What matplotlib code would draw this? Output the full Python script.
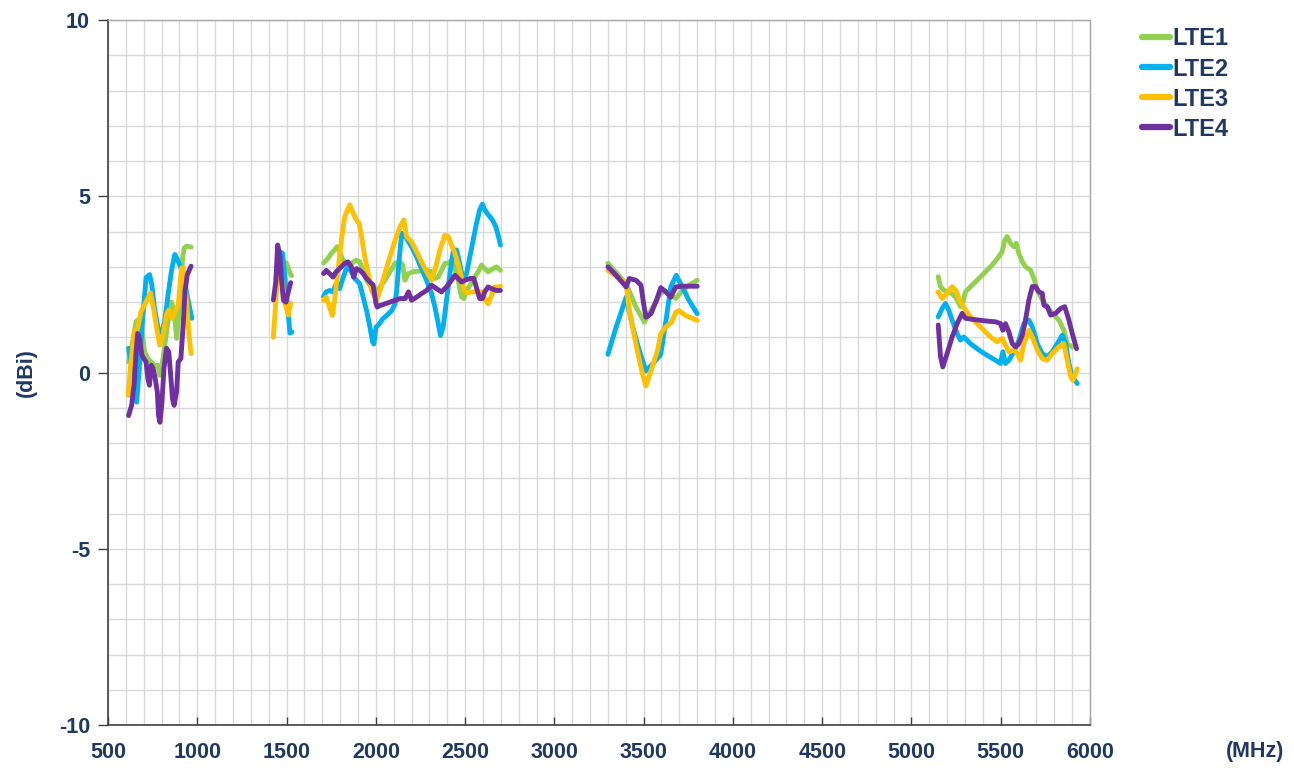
import numpy as np
import matplotlib.pyplot as plt
from matplotlib.ticker import MultipleLocator

nan = np.nan

# 频率 (MHz) / 增益 (dBi)，各频段之间用 nan 断开
lte1_f = [615, 638, 657, 670, 685, 694, 704, 723, 742, 760, 780, 789, 808, 836, 855, 870, 884, 897, 908, 918, 927, 940, 965, nan,
          1440, 1453, 1470, 1500, 1519, 1528, nan,
          1707, 1732, 1750, 1769, 1782, 1797, 1816, 1835, 1854, 1873, 1891, 1910, 1929, 1948, 1967, 1995, 2023, 2051, 2079, 2108, 2136,
          2150, 2163, 2181, 2209, 2247, 2284, 2312, 2331, 2350, 2368, 2387, 2405, 2424, 2440, 2461, 2480, 2493, 2508, 2530,
          2573, 2592, 2610, 2629, 2657, 2676, 2698, nan,
          3300, 3402, 3457, 3504, 3541, 3587, 3615, 3643, 3680, 3717, 3754, 3800, nan,
          5150, 5163, 5181, 5209, 5237, 5256, 5275, 5288, 5303, 5340, 5378, 5415, 5452, 5490, 5508, 5523, 5536, 5555, 5574,
          5587, 5602, 5621, 5639, 5667, 5686, 5705, 5733, 5761, 5789, 5826, 5854, 5873, 5901]
lte1_g = [0.3, 0.88, 1.45, 1.5, 1.26, 1.07, 0.59, 0.4, 0.3, 0.21, 0.2, -0.08, 0.4, 1.45, 2.0, 1.73, 0.97, 1.64, 2.5, 3.26, 3.54, 3.59, 3.56, nan,
          2.62, 3.38, 3.2, 3.1, 2.82, 2.75, nan,
          3.11, 3.24, 3.38, 3.48, 3.57, 3.43, 3.19, 3.1, 3.05, 3.14, 3.19, 3.14, 2.9, 2.62, 2.48, 2.29, 2.43, 2.62, 2.86, 3.1, 3.14,
          3.05, 2.62, 2.81, 2.86, 2.88, 2.9, 2.86, 2.67, 2.71, 2.9, 3.1, 3.1, 3.19, 3.0, 2.62, 2.14, 2.1, 2.33, 2.5,
          2.86, 3.05, 2.95, 2.86, 2.95, 3.0, 2.9, nan,
          3.1, 2.52, 1.86, 1.43, 1.76, 2.19, 2.33, 2.24, 2.1, 2.33, 2.48, 2.62, nan,
          2.72, 2.44, 2.34, 2.29, 2.2, 2.06, 1.87, 2.01, 2.29, 2.48, 2.67, 2.86, 3.05, 3.29, 3.43, 3.76, 3.86, 3.67, 3.57,
          3.67, 3.38, 3.15, 3.0, 2.91, 2.67, 2.34, 2.06, 1.87, 1.68, 1.49, 1.2, 0.82, 0.73]

lte2_f = [615, 628, 647, 660, 675, 694, 713, 732, 745, 760, 780, 798, 817, 836, 855, 874, 889, 908, 931, 950, 969, nan,
          1435, 1463, 1478, 1500, 1519, 1530, nan,
          1707, 1722, 1741, 1760, 1778, 1797, 1812, 1831, 1844, 1863, 1882, 1910, 1929, 1948, 1967, 1982, 1989, 2001, 2019, 2038,
          2060, 2089, 2108, 2117, 2132, 2145, 2164, 2172, 2200, 2228, 2256, 2284, 2312, 2331, 2350, 2362, 2377, 2396, 2415,
          2433, 2452, 2470, 2489, 2508, 2527, 2545, 2564, 2582, 2597, 2610, 2629, 2653, 2672, 2685, 2698, nan,
          3300, 3346, 3402, 3439, 3476, 3513, 3550, 3596, 3628, 3652, 3683, 3717, 3754, 3800, nan,
          5150, 5172, 5191, 5209, 5228, 5256, 5275, 5293, 5331, 5378, 5424, 5471, 5499, 5512, 5527, 5546, 5574, 5602, 5630,
          5658, 5677, 5705, 5733, 5761, 5789, 5817, 5845, 5864, 5882, 5901, 5929]
lte2_g = [0.69, 0.3, -0.17, -0.84, 0.11, 1.54, 2.69, 2.78, 2.5, 1.83, 1.26, 1.07, 1.45, 2.2, 2.88, 3.35, 3.2, 2.97, 2.5, 2.02, 1.54, nan,
          2.25, 3.43, 3.38, 2.15, 1.12, 1.15, nan,
          2.16, 2.29, 2.33, 2.29, 2.52, 2.38, 2.62, 2.9, 3.0, 2.86, 2.67, 2.52, 2.14, 1.76, 1.29, 0.86, 0.81, 1.29, 1.38, 1.52,
          1.62, 1.76, 1.95, 2.33, 3.29, 3.95, 3.86, 3.81, 3.57, 3.29, 2.95, 2.62, 2.24, 1.86, 1.38, 1.05, 1.29, 2.05, 2.81,
          3.43, 3.48, 3.1, 2.62, 2.81, 3.29, 3.76, 4.24, 4.62, 4.78, 4.62, 4.48, 4.33, 4.14, 3.9, 3.62, nan,
          0.52, 1.29, 2.14, 1.29, 0.62, 0.05, 0.24, 0.52, 1.57, 2.43, 2.76, 2.43, 2.05, 1.67, nan,
          1.58, 1.82, 1.96, 1.77, 1.49, 1.11, 0.92, 1.01, 0.82, 0.64, 0.49, 0.35, 0.26, 0.59, 0.26, 0.35, 0.59, 0.92, 1.39,
          1.49, 1.3, 0.82, 0.54, 0.45, 0.59, 0.82, 1.06, 0.82, 0.26, -0.12, -0.31]

lte3_f = [613, 628, 647, 666, 685, 700, 723, 738, 751, 770, 789, 808, 827, 840, 859, 874, 893, 912, 921, 940, 953, 965, nan,
          1426, 1445, 1457, 1491, 1510, 1523, nan,
          1707, 1722, 1741, 1756, 1769, 1788, 1807, 1826, 1854, 1873, 1891, 1906, 1920, 1938, 1957, 1976, 2004, 2023, 2051,
          2079, 2108, 2136, 2157, 2172, 2200, 2228, 2256, 2284, 2312, 2336, 2359, 2387, 2405, 2424, 2443, 2461, 2480, 2493,
          2508, 2536, 2564, 2592, 2616, 2629, 2648, 2666, 2685, 2698, nan,
          3300, 3402, 3420, 3457, 3494, 3513, 3541, 3578, 3596, 3624, 3657, 3680, 3698, 3735, 3800, nan,
          5150, 5172, 5200, 5228, 5247, 5275, 5303, 5331, 5368, 5406, 5443, 5480, 5508, 5527, 5546, 5574, 5593, 5611, 5630,
          5658, 5677, 5705, 5733, 5761, 5789, 5826, 5854, 5873, 5892, 5905, 5929]
lte3_g = [-0.65, 0.3, 1.16, 1.26, 1.73, 1.88, 2.11, 2.26, 1.92, 1.35, 0.78, 1.07, 1.64, 1.78, 1.54, 1.73, 1.92, 2.97, 2.97, 2.02, 1.07, 0.54, nan,
          1.0, 2.43, 3.19, 1.97, 1.63, 1.97, nan,
          2.05, 2.14, 1.86, 1.62, 2.05, 2.9, 3.76, 4.43, 4.76, 4.52, 4.33, 4.24, 3.86, 3.29, 2.81, 2.33, 2.05, 2.33, 2.81,
          3.29, 3.76, 4.14, 4.33, 3.86, 3.71, 3.43, 3.14, 2.86, 2.62, 3.0, 3.48, 3.9, 3.86, 3.62, 3.38, 3.1, 2.71, 2.33,
          2.26, 2.29, 2.29, 2.29, 2.05, 1.95, 2.19, 2.43, 2.43, 2.45, nan,
          2.9, 2.52, 1.76, 0.81, -0.05, -0.38, 0.05, 0.62, 1.1, 1.29, 1.43, 1.71, 1.76, 1.62, 1.48, nan,
          2.29, 2.1, 2.25, 2.44, 2.34, 2.01, 1.77, 1.58, 1.39, 1.2, 1.01, 0.87, 0.97, 0.78, 0.59, 0.64, 0.54, 0.35, 0.82,
          1.2, 1.01, 0.64, 0.4, 0.35, 0.54, 0.73, 0.82, 0.35, -0.12, -0.22, 0.11]

lte4_f = [615, 632, 647, 657, 666, 676, 689, 700, 713, 723, 732, 742, 753, 764, 776, 783, 791, 802, 813, 827, 840, 851,
          861, 870, 884, 893, 908, 921, 931, 944, 965, nan,
          1426, 1440, 1450, 1463, 1472, 1482, 1496, 1510, 1523, nan,
          1707, 1722, 1741, 1760, 1778, 1797, 1826, 1844, 1863, 1876, 1891, 1910, 1929, 1948, 1967, 1985, 2001, 2008, 2023,
          2051, 2079, 2108, 2136, 2164, 2183, 2200, 2228, 2256, 2284, 2312, 2340, 2368, 2396, 2424, 2443, 2461, 2480, 2499,
          2527, 2549, 2568, 2582, 2597, 2610, 2629, 2648, 2676, 2698, nan,
          3300, 3346, 3402, 3420, 3457, 3485, 3500, 3513, 3541, 3572, 3596, 3624, 3652, 3680, 3717, 3763, 3800, nan,
          5150, 5163, 5176, 5200, 5228, 5256, 5284, 5303, 5340, 5378, 5424, 5471, 5499, 5512, 5527, 5546, 5565, 5583, 5602,
          5621, 5639, 5658, 5677, 5695, 5714, 5733, 5742, 5761, 5780, 5808, 5836, 5859, 5882, 5901, 5925]
lte4_g = [-1.22, -0.93, -0.27, 0.59, 1.11, 0.97, 0.5, 0.4, 0.3, -0.17, -0.36, 0.21, 0.11, -0.17, -0.55, -1.22, -1.41, -0.84,
          0.11, 0.69, 0.59, -0.08, -0.74, -0.93, -0.55, 0.3, 0.4, 1.35, 2.3, 2.78, 3.02, nan,
          2.06, 2.6, 3.62, 3.3, 2.62, 2.06, 2.0, 2.3, 2.55, nan,
          2.81, 2.9, 2.81, 2.71, 2.86, 2.95, 3.1, 3.14, 3.0, 2.71, 2.95, 2.9, 2.81, 2.67, 2.57, 2.48, 1.95, 1.86, 1.9,
          1.95, 2.0, 2.05, 2.1, 2.1, 2.29, 2.05, 2.14, 2.24, 2.33, 2.48, 2.38, 2.29, 2.43, 2.62, 2.76, 2.67, 2.57, 2.62,
          2.67, 2.67, 2.33, 2.1, 2.1, 2.29, 2.43, 2.38, 2.33, 2.33, nan,
          3.0, 2.76, 2.43, 2.67, 2.62, 2.48, 1.95, 1.57, 1.67, 2.05, 2.41, 2.29, 2.14, 2.43, 2.45, 2.45, 2.45, nan,
          1.35, 0.45, 0.16, 0.54, 1.01, 1.39, 1.68, 1.54, 1.51, 1.49, 1.46, 1.44, 1.39, 1.2, 1.39, 1.15, 0.82, 0.73, 0.82,
          1.06, 1.49, 2.06, 2.44, 2.44, 2.29, 2.25, 1.91, 1.87, 1.63, 1.68, 1.82, 1.87, 1.49, 1.11, 0.68]

series = ['LTE1', 'LTE2', 'LTE3', 'LTE4']
colors = ['#92D050', '#00B0F0', '#FFC000', '#7030A0']
data = [(lte1_f, lte1_g), (lte2_f, lte2_g), (lte3_f, lte3_g), (lte4_f, lte4_g)]

navy = '#1F3864'
plt.rcParams['font.family'] = ['Liberation Sans', 'DejaVu Sans']
plt.rcParams['font.weight'] = 'bold'
plt.rcParams['axes.unicode_minus'] = False

fig = plt.figure(figsize=(12.94, 7.73), dpi=100)
ax = fig.add_axes([0.0835, 0.062, 0.7588, 0.912])

for name, c, (f, g) in zip(series, colors, data):
    ax.plot(f, g, color=c, lw=3.5, label=name, solid_capstyle='round', solid_joinstyle='round')

ax.set_xlim(500, 6000)
ax.set_ylim(-10, 10)
ax.xaxis.set_major_locator(MultipleLocator(500))
ax.xaxis.set_minor_locator(MultipleLocator(100))
ax.yaxis.set_major_locator(MultipleLocator(5))
ax.yaxis.set_minor_locator(MultipleLocator(1))
ax.grid(which='both', color='#D9D9D9', lw=1.0)
ax.set_axisbelow(True)

ax.tick_params(axis='x', which='major', direction='in', length=6, width=1, color='#404040',
               pad=12, labelsize=15.5, labelcolor=navy)
ax.tick_params(axis='y', which='major', direction='out', length=7, width=1, color='#404040',
               pad=6, labelsize=15.5, labelcolor=navy)
ax.tick_params(which='minor', length=0)
for s in ['left', 'bottom']:
    ax.spines[s].set_color('#404040')
    ax.spines[s].set_linewidth(1.2)
for s in ['top', 'right']:
    ax.spines[s].set_color('#A6A6A6')
    ax.spines[s].set_linewidth(1.0)

fig.text(0.02, 0.518, '(dBi)', fontsize=15.5, color=navy, rotation=90, ha='center', va='center')
fig.text(0.97, 0.028, '(MHz)', fontsize=15.5, color=navy, ha='center', va='center')

leg = fig.legend(loc='upper left', bbox_to_anchor=(0.866, 0.992), frameon=False,
                 fontsize=17, handlelength=1.2, handletextpad=0.08, labelspacing=0.3)
for t in leg.get_texts():
    t.set_color(navy)
for h in leg.get_lines():
    h.set_linewidth(4.5)

fig.savefig('out.png', dpi=100)
